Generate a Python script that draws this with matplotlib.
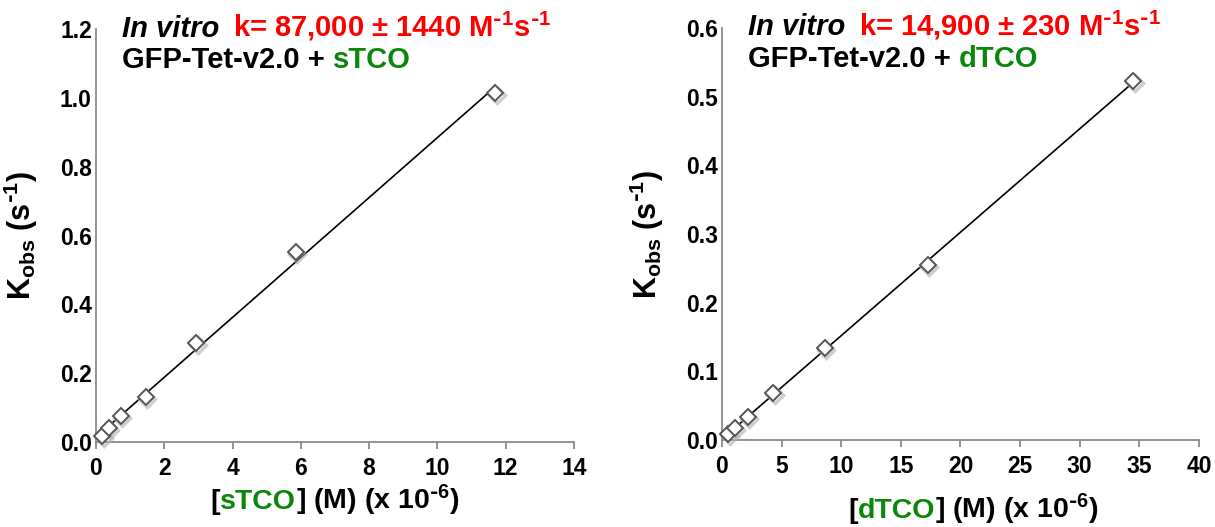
import matplotlib
matplotlib.use("Agg")
import matplotlib.pyplot as plt
import matplotlib.transforms as mtransforms
import numpy as np

# --------------------
# data
stco_conc = [0.18, 0.37, 0.73, 1.46, 2.93, 5.85, 11.7]        # x 10^-6 M
stco_kobs = [0.018, 0.040, 0.075, 0.132, 0.289, 0.553, 1.015]  # s^-1

dtco_conc = [0.54, 1.08, 2.16, 4.31, 8.63, 17.25, 34.5]
dtco_kobs = [0.009, 0.017, 0.034, 0.069, 0.134, 0.255, 0.523]

stco_xticks = [0, 2, 4, 6, 8, 10, 12, 14]
stco_yticks = [0.0, 0.2, 0.4, 0.6, 0.8, 1.0, 1.2]
dtco_xticks = [0, 5, 10, 15, 20, 25, 30, 35, 40]
dtco_yticks = [0.0, 0.1, 0.2, 0.3, 0.4, 0.5, 0.6]

rate_labels = ["k= 87,000 \u00b1 1440 M$^{\\text{-}1}$s$^{\\text{-}1}$",
               "k= 14,900 \u00b1 230 M$^{\\text{-}1}$s$^{\\text{-}1}$"]
tco_names = ["sTCO", "dTCO"]

# --------------------
# style
plt.rcParams['font.family'] = ['Liberation Sans', 'DejaVu Sans']
plt.rcParams['font.weight'] = 'bold'
plt.rcParams['mathtext.default'] = 'regular'

RED = '#ff0000'
GREEN = '#0a870a'
AXIS_GRAY = '#8a8a8a'

fig = plt.figure(figsize=(12.15, 5.27), dpi=100)
ax1 = fig.add_axes([0.079, 0.161, 0.3934, 0.7837])
ax2 = fig.add_axes([0.5942, 0.165, 0.3926, 0.782])


def chain_text(ax, pieces, x, y, size, **kw):
    """draw coloured text pieces one after another on one baseline"""
    arts = []
    prev = None
    for txt, color, style, dx in pieces:
        if prev is None:
            t = ax.annotate(txt, xy=(x, y), xycoords='axes fraction',
                            color=color, fontstyle=style, fontsize=size,
                            fontweight='bold', ha='left', va='baseline', **kw)
        else:
            t = ax.annotate(txt, xy=(1, y), xycoords=(prev, 'axes fraction'),
                            xytext=(dx, 0), textcoords='offset points',
                            color=color, fontstyle=style, fontsize=size,
                            fontweight='bold', ha='left', va='baseline', **kw)
        arts.append(t)
        prev = t
    return arts


def draw_panel(ax, conc, kobs, xticks, yticks, rate_label, name, xlab_y):
    conc = np.array(conc)
    kobs = np.array(kobs)

    # linear fit
    slope, icpt = np.polyfit(conc, kobs, 1)
    xf = np.array([conc.min(), conc.max()])
    ax.plot(xf, slope * xf + icpt, color='black', lw=1.2, zorder=2)

    # soft marker shadow
    shadow = mtransforms.offset_copy(ax.transData, fig=fig, x=1.5, y=-2.0, units='dots')
    ax.plot(conc, kobs, linestyle='none', marker='D', markersize=8,
            markerfacecolor='none', markeredgecolor='#b0b0b0', markeredgewidth=2.5,
            alpha=0.6, transform=shadow, zorder=3, clip_on=False)
    ax.plot(conc, kobs, linestyle='none', marker='D', markersize=8,
            markerfacecolor='white', markeredgecolor='#555555', markeredgewidth=1.4,
            zorder=4, clip_on=False)

    ax.set_xlim(xticks[0], xticks[-1])
    ax.set_ylim(yticks[0], yticks[-1])
    ax.set_xticks(xticks)
    ax.set_yticks(yticks)
    ax.set_yticklabels([f"{v:.1f}" for v in yticks])

    for s in ['top', 'right']:
        ax.spines[s].set_visible(False)
    for s in ['left', 'bottom']:
        ax.spines[s].set_color(AXIS_GRAY)
        ax.spines[s].set_linewidth(1.3)

    ax.tick_params(axis='x', direction='out', length=5, width=1.3, color=AXIS_GRAY,
                   labelsize=16.5, pad=6)
    ax.tick_params(axis='y', length=0, labelsize=16.5, pad=3)
    for lab in ax.get_xticklabels() + ax.get_yticklabels():
        lab.set_fontweight('bold')

    # y label
    ax.text(-0.157, 0.5, "K$_{obs}$ (s$^{\\text{-}1}$)", transform=ax.transAxes,
            rotation=90, ha='center', va='center', fontsize=22, fontweight='bold')

    # title lines
    chain_text(ax, [("In vitro", 'black', 'italic', 0),
                    (rate_label, RED, 'normal', 10)],
               0.055, 0.982, 21)
    chain_text(ax, [("GFP-Tet-v2.0 + ", 'black', 'normal', 0),
                    (name, GREEN, 'normal', 0)],
               0.055, 0.906, 21)

    # x label, coloured, centred afterwards
    xl = chain_text(ax, [("[", 'black', 'normal', 0),
                         (name, GREEN, 'normal', 0),
                         ("] (M) (x 10$^{\\text{-}6}$)", 'black', 'normal', 0)],
                    0.3, xlab_y, 20.5)
    return xl


xl1 = draw_panel(ax1, stco_conc, stco_kobs, stco_xticks, stco_yticks,
                 rate_labels[0], tco_names[0], -0.163)
xl2 = draw_panel(ax2, dtco_conc, dtco_kobs, dtco_xticks, dtco_yticks,
                 rate_labels[1], tco_names[1], -0.19)

# centre the coloured x labels under their axes (right one sits a bit right)
fig.canvas.draw()
renderer = fig.canvas.get_renderer()
for ax, pieces, cx in [(ax1, xl1, 0.5), (ax2, xl2, 0.527)]:
    x0 = pieces[0].get_window_extent(renderer).x0
    x1 = pieces[-1].get_window_extent(renderer).x1
    width_ax = (x1 - x0) / ax.bbox.width
    y = pieces[0].xyann[1]
    pieces[0].xyann = (cx - width_ax / 2, y)

fig.savefig("out.png", dpi=100)
plt.close(fig)
